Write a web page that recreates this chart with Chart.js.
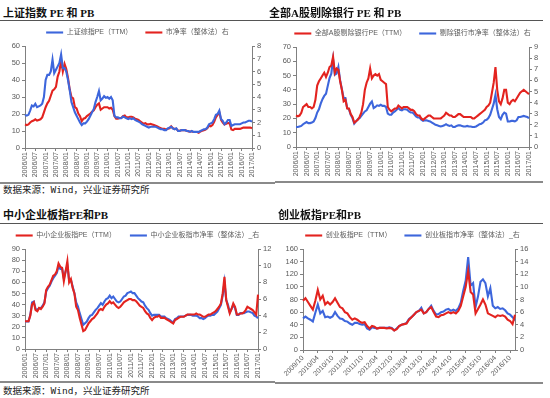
<!DOCTYPE html>
<html>
<head>
<meta charset="utf-8">
<script src="https://cdn.jsdelivr.net/npm/chart.js@4.4.0/dist/chart.umd.min.js"></script>
<style>
  body { margin: 0; width: 550px; height: 398px; background: #fff; position: relative; overflow: hidden; }
  .title { position: absolute; font: bold 11px/12px "Liberation Serif", "Noto Sans CJK SC", serif; color: #111; white-space: nowrap; }
  .rule { position: absolute; height: 0; border-top: 1.5px solid #555; }
  .rule.low { border-top: 2px solid #8a8a8a; }
  .src { position: absolute; font: 9.5px/11px "DejaVu Sans Mono", "Noto Sans CJK SC", monospace; color: #222; white-space: nowrap; }
  canvas { position: absolute; }
</style>
</head>
<body>

<div class="title" style="left:3px;top:7px">上证指数 PE 和 PB</div>
<div class="rule" style="left:0;top:20px;width:272px"></div>
<canvas id="c1" width="275" height="164" style="left:0;top:16px"></canvas>
<div class="rule low" style="left:0;top:182px;width:275px"></div>
<div class="src" style="left:3px;top:184px">数据来源：Wind，兴业证券研究所</div>

<div class="title" style="left:269px;top:7px">全部A股剔除银行 PE 和 PB</div>
<div class="rule" style="left:268px;top:20px;width:275px"></div>
<canvas id="c2" width="275" height="160" style="left:275px;top:17px"></canvas>
<div class="rule low" style="left:275px;top:181px;width:268px"></div>

<div class="title" style="left:3px;top:209px">中小企业板指PE和PB</div>
<div class="rule" style="left:0;top:223px;width:275px"></div>
<canvas id="c3" width="275" height="161" style="left:0;top:218px"></canvas>
<div class="rule low" style="left:0;top:381px;width:275px"></div>
<div class="src" style="left:3px;top:385px">数据来源：Wind，兴业证券研究所</div>

<div class="title" style="left:278px;top:209px">创业板指PE和PB</div>
<div class="rule" style="left:275px;top:223px;width:268px"></div>
<canvas id="c4" width="275" height="167" style="left:275px;top:219px"></canvas>
<div class="rule low" style="left:275px;top:382px;width:268px"></div>

<script>
// month labels "YYYY/MM"
function months(year, month, count) {
  const out = [];
  for (let i = 0; i < count; i++) {
    const m = (month - 1 + i) % 12 + 1;
    const y = year + Math.floor((month - 1 + i) / 12);
    out.push(y + '/' + String(m).padStart(2, '0'));
  }
  return out;
}

const monthsMain = months(2006, 1, 133);   // 2006/01 .. 2017/01
const monthsCyb = months(2009, 10, 87);    // 2009/10 .. 2016/12

// 上证指数
const shPE = [
  19.5, 19, 19.5, 22, 25, 24.5, 26, 24, 24.5, 25, 26, 30,
  40, 43, 43, 45, 52, 44, 46, 48, 50, 55, 47, 47,
  45, 40, 34, 27, 24, 21, 19, 17, 15, 13.5, 14.5, 14.5,
  15.5, 17, 19, 21, 23, 27, 30, 33.5, 28, 29, 30.5, 29.5,
  30, 29, 30, 28, 19, 18, 18, 17.5, 17.5, 18.5, 18, 17.5,
  17, 17.5, 17, 17.5, 16.5, 16, 15.5, 15, 14, 13.5, 13, 12.5,
  12, 12.5, 12.5, 12.5, 12.5, 12, 11.5, 11, 11, 10.5, 10.5, 11.5,
  12, 12.5, 11.5, 11, 11.5, 10, 10, 10.5, 10.5, 10.5, 10, 10,
  9.5, 10, 9.5, 9.5, 9.5, 9.5, 10, 10.5, 11, 11, 12, 14,
  14.5, 15, 17, 19.5, 20, 22, 17, 16, 14, 15, 16.5, 16.5,
  13, 13.5, 14, 14, 14, 14, 14.5, 15, 15, 15.5, 16, 16,
  15.5
];
const shPB = [
  1.85, 1.8, 1.85, 2.0, 2.1, 2.15, 2.25, 2.15, 2.2, 2.25, 2.4, 2.8,
  3.2, 3.5, 3.7, 4.1, 4.5, 4.6, 4.8, 5.6, 6.0, 6.9, 6.0, 6.6,
  6.2, 5.5, 4.6, 4.0, 3.9, 3.2, 3.1, 2.7, 2.5, 2.1, 2.3, 2.35,
  2.5, 2.6, 2.7, 2.85, 2.95, 3.2, 3.4, 3.5, 3.0, 3.1, 3.2, 3.2,
  3.2, 3.1, 3.15, 3.0, 2.5, 2.3, 2.3, 2.35, 2.35, 2.5, 2.55, 2.4,
  2.4, 2.45, 2.45, 2.4, 2.3, 2.25, 2.2, 2.1, 2.0, 1.9, 1.95, 1.85,
  1.85, 1.9, 1.85, 1.8, 1.75, 1.7, 1.6, 1.55, 1.5, 1.5, 1.45, 1.5,
  1.55, 1.7, 1.55, 1.5, 1.5, 1.35, 1.35, 1.4, 1.4, 1.4, 1.35, 1.3,
  1.3, 1.3, 1.25, 1.25, 1.25, 1.2, 1.3, 1.35, 1.4, 1.45, 1.55, 1.75,
  1.7, 1.8, 2.05, 2.4, 2.6, 2.8, 2.2, 2.0, 1.85, 1.9, 1.95, 1.95,
  1.45, 1.4, 1.5, 1.5, 1.5, 1.5, 1.55, 1.6, 1.6, 1.6, 1.6, 1.6,
  1.55
];

// 全部A股剔除银行
const exBankPE = [
  22, 21.5, 22, 24, 28, 29, 30, 28, 28, 27, 28, 33,
  43, 46, 48, 50, 52, 49, 52, 56, 57, 63, 52, 55,
  54, 46, 40, 32, 33, 27, 27, 23, 21, 17, 18, 19,
  21, 24, 30, 40, 45, 48, 55, 48, 50, 51, 50, 51,
  47, 46, 45, 44, 28, 26, 25, 26, 27, 27, 29, 28,
  27, 28, 28, 28, 27, 26, 26, 25, 23, 22, 22, 20,
  19, 20, 21, 22, 22, 21, 20, 20, 20, 20, 20, 21,
  22, 24, 23, 22, 22, 21, 21, 22, 23, 23, 22, 21,
  21, 21, 21, 21, 20, 20, 21, 22, 23, 24, 25, 26,
  28, 29, 31, 38, 45, 56, 40, 32, 30, 34, 40, 40,
  31, 30, 32, 33, 32, 34, 36, 38, 39, 40, 39, 38,
  37
];
const exBankPB = [
  1.8, 1.8, 1.85, 1.9, 2.05, 2.15, 2.25, 2.15, 2.15, 2.2, 2.3, 2.6,
  3.1, 3.4, 3.9, 4.3, 4.6, 4.8, 5.5, 6.2, 6.6, 7.9, 6.5, 6.6,
  7.2, 6.0, 5.2, 4.4, 4.4, 3.5, 3.4, 2.9, 2.6, 2.1, 2.3, 2.5,
  2.6, 2.8, 3.0, 3.2, 3.3, 3.6, 3.9, 4.1, 3.5, 3.6, 3.75, 3.7,
  3.8, 3.7, 3.7, 3.6, 3.0, 2.9, 2.9, 3.1, 3.2, 3.35, 3.5, 3.35,
  3.3, 3.4, 3.4, 3.35, 3.2, 3.1, 3.1, 2.95, 2.75, 2.65, 2.65, 2.45,
  2.35, 2.4, 2.4, 2.35, 2.3, 2.2, 2.1, 2.0, 1.95, 1.9, 1.85, 1.9,
  1.95, 2.05, 1.95, 1.9, 1.95, 1.8, 1.8, 1.9, 1.95, 1.95, 1.9, 1.85,
  1.85, 1.9, 1.85, 1.85, 1.8, 1.8, 1.85, 1.95, 2.05, 2.1, 2.2, 2.4,
  2.45, 2.6, 2.9, 3.4, 3.9, 4.7, 3.4, 2.7, 2.5, 2.9, 3.1, 3.0,
  2.3, 2.3, 2.35, 2.35, 2.3, 2.4, 2.7, 2.7, 2.75, 2.8, 2.75, 2.7,
  2.6
];

// 中小企业板指
const smePE = [
  25, 25, 25, 30, 40, 42, 35, 34, 37, 36, 38, 41,
  53, 56, 58, 62, 66, 67, 70, 77, 74, 73, 61, 70,
  79, 60, 63, 55, 50, 38, 35, 28, 22, 16, 17, 20,
  23, 25, 27, 28, 30, 32, 35, 36, 35, 38, 40, 41,
  43, 41, 42, 40, 38, 37, 38, 40, 42, 43, 44, 45,
  45, 44, 44, 43, 41, 39, 38, 37, 34, 32, 31, 28,
  26, 28, 29, 29, 30, 28, 28, 28, 27, 26, 25, 24,
  23, 26, 27, 28, 29, 29, 29, 30, 31, 31, 31, 31,
  31, 32, 31, 31, 30, 29, 29, 30, 31, 31, 32, 33,
  34, 36, 38, 41, 50, 65, 44, 38, 32, 36, 41, 38,
  31, 31, 32, 32, 33, 35, 38, 37, 36, 35, 33, 31,
  49
];
const smePB = [
  3.3, 3.3, 3.3, 4.1, 5.6, 5.7, 4.8, 4.7, 4.9, 4.9, 5.2, 5.6,
  6.9, 7.3, 7.6, 8.1, 8.5, 8.8, 9.1, 9.9, 9.6, 9.7, 8.5, 9.3,
  10.0, 8.3, 8.3, 7.5, 6.7, 5.6, 5.1, 4.3, 3.6, 2.9, 3.1, 3.3,
  3.7, 4.0, 4.1, 4.4, 4.7, 4.9, 5.2, 5.5, 5.3, 5.7, 6.0, 6.1,
  6.4, 6.1, 6.3, 6.0, 5.7, 5.6, 5.7, 6.0, 6.3, 6.4, 6.7, 6.8,
  6.9, 6.7, 6.7, 6.4, 6.1, 5.9, 5.7, 5.6, 5.2, 4.9, 4.7, 4.3,
  4.0, 4.1, 4.1, 4.1, 4.1, 3.9, 3.9, 3.9, 3.7, 3.6, 3.5, 3.3,
  3.2, 3.6, 3.7, 3.9, 3.9, 3.9, 3.9, 4.0, 4.1, 4.1, 4.1, 4.0,
  4.0, 4.0, 3.9, 3.7, 3.7, 3.6, 3.7, 3.9, 4.0, 4.0, 4.1, 4.1,
  4.3, 4.5, 4.9, 5.3, 6.4, 8.0, 5.9, 5.3, 4.4, 4.8, 5.3, 4.9,
  4.1, 4.1, 4.3, 4.3, 4.3, 4.4, 4.5, 4.5, 4.4, 4.3, 4.0, 3.9,
  3.7
];

// 创业板指
const cybPE = [
  78, 82, 76,
  70, 64, 78, 95, 80, 86, 72, 76, 72, 76, 82, 75,
  68, 66, 60, 58, 52, 48, 50, 48, 45, 43, 44, 38,
  34, 38, 37, 34, 35, 35, 35, 34, 35, 34, 31, 33,
  38, 40, 41, 42, 48, 52, 56, 60, 62, 64, 58, 60,
  65, 68, 60, 53, 52, 55, 56, 58, 60, 58, 60, 58,
  62, 70, 85, 100, 125, 92, 88, 58, 65, 72, 80, 72,
  58, 56, 54, 52, 55, 54, 55, 53, 48, 46, 41, 56
];
const cybPB = [
  5.0, 5.3, 5.0,
  4.8, 4.5, 5.9, 7.2, 5.8, 6.2, 5.2, 5.3, 5.1, 5.3, 6.0, 5.4,
  5.0, 4.9, 4.6, 4.5, 4.2, 4.0, 4.3, 4.3, 4.1, 4.0, 4.1, 3.4,
  3.2, 3.6, 3.5, 3.4, 3.5, 3.5, 3.5, 3.5, 3.6, 3.5, 3.1, 3.4,
  3.8, 4.0, 4.1, 4.3, 4.9, 5.2, 5.6, 6.0, 6.2, 6.7, 5.8, 6.0,
  6.5, 7.0, 6.2, 5.6, 5.7, 6.0, 6.1, 6.4, 6.5, 6.2, 6.4, 6.2,
  6.6, 7.5, 9.4, 11.0, 14.7, 10.2, 10.6, 6.8, 8.5, 10.8, 11.2, 10.6,
  8.5, 9.8, 7.0, 6.6, 6.8, 6.5, 6.6, 6.3, 5.8, 5.6, 5.2, 4.7
];

const RED = '#e3231f';
const BLUE = '#3d66dc';
const AXIS = '#808080';
const TICK = '#595959';
const FONT = '"Liberation Sans", "Noto Sans CJK SC", sans-serif';

function yAxis(pos, max, step, width) {
  return {
    position: pos, min: 0, max: max,
    afterFit: a => { a.width = width; },
    grid: { drawOnChartArea: false, tickLength: 3, color: AXIS },
    border: { color: AXIS },
    // count pins every step label, even on short axes
    ticks: { count: max / step + 1, autoSkip: false, padding: 2, color: TICK, font: { size: 7.5, family: FONT } },
  };
}

function buildChart(id, o) {
  return new Chart(document.getElementById(id), {
    type: 'line',
    data: {
      labels: o.labels,
      datasets: o.series.map(s => ({
        label: s.label, data: s.data, yAxisID: s.axis,
        borderColor: s.color, backgroundColor: s.color,
        borderWidth: 2.1, pointRadius: 0, tension: 0,
      })),
    },
    options: {
      responsive: false,
      animation: false,
      devicePixelRatio: 1,
      layout: { padding: 0 },
      plugins: {
        legend: {
          labels: {
            usePointStyle: true, pointStyle: 'line', pointStyleWidth: 17,
            padding: o.legendPad, color: TICK, font: { size: 7, family: FONT },
          },
        },
        tooltip: { enabled: false },
      },
      scales: {
        x: {
          offset: false,
          afterBuildTicks: a => { a.ticks = a.ticks.filter(t => t.value % 6 === 0); },
          afterFit: a => { a.height = o.xHeight; },
          grid: { drawOnChartArea: false, tickLength: 3, color: AXIS },
          border: { color: AXIS },
          ticks: {
            autoSkip: false, minRotation: o.rot, maxRotation: o.rot, padding: 1,
            color: TICK, font: { size: 7, family: FONT },
          },
        },
        yL: yAxis('left', o.leftMax, o.leftStep, o.leftW),
        yR: yAxis('right', o.rightMax, o.rightStep, o.rightW),
      },
    },
  });
}

buildChart('c1', {
  labels: monthsMain, rot: 90, xHeight: 32, legendPad: 13,
  leftMax: 60, leftStep: 10, leftW: 25, rightMax: 8, rightStep: 1, rightW: 23,
  series: [
    { label: '上证综指PE（TTM）', data: shPE, axis: 'yL', color: BLUE },
    { label: '市净率（整体法）右', data: shPB, axis: 'yR', color: RED },
  ],
});

buildChart('c2', {
  labels: monthsMain, rot: 90, xHeight: 30, legendPad: 13,
  leftMax: 70, leftStep: 10, leftW: 21, rightMax: 9, rightStep: 1, rightW: 21,
  series: [
    { label: '全部A股剔除银行PE（TTM）', data: exBankPE, axis: 'yL', color: RED },
    { label: '剔除银行市净率（整体法）右', data: exBankPB, axis: 'yR', color: BLUE },
  ],
});

buildChart('c3', {
  labels: monthsMain, rot: 90, xHeight: 30, legendPad: 14,
  leftMax: 90, leftStep: 10, leftW: 25, rightMax: 12, rightStep: 2, rightW: 17,
  series: [
    { label: '中小企业板指PE（TTM）', data: smePE, axis: 'yL', color: RED },
    { label: '中小企业板指市净率（整体法）_右', data: smePB, axis: 'yR', color: BLUE },
  ],
});

buildChart('c4', {
  labels: monthsCyb, rot: 45, xHeight: 36, legendPad: 13,
  leftMax: 160, leftStep: 20, leftW: 28, rightMax: 16, rightStep: 2, rightW: 35,
  series: [
    { label: '创业板指PE（TTM）', data: cybPE, axis: 'yL', color: RED },
    { label: '创业板指市净率（整体法）_右', data: cybPB, axis: 'yR', color: BLUE },
  ],
});
</script>
</body>
</html>
